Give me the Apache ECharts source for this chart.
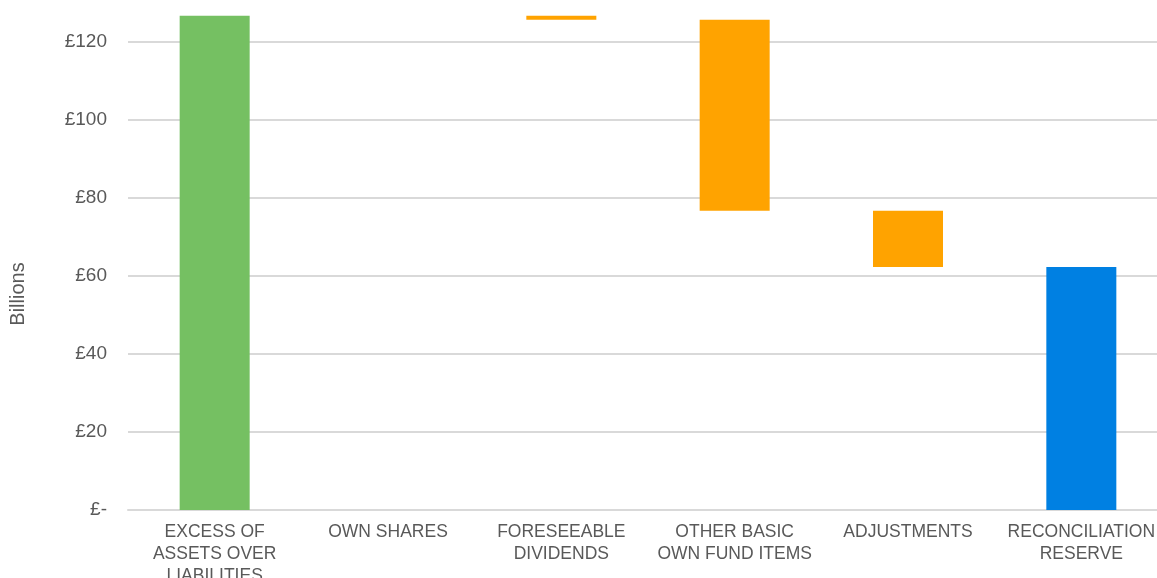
<!DOCTYPE html>
<html>
<head>
<meta charset="utf-8">
<script src="https://cdn.jsdelivr.net/npm/echarts@6/dist/echarts.min.js"></script>
<style>
  html, body { margin: 0; padding: 0; background: #fff; }
  #chart { width: 1157px; height: 578px; }
</style>
</head>
<body>
<div id="chart"></div>
<script>
// categories and movements (billions)
var categories = ['EXCESS OF\nASSETS OVER\nLIABILITIES', 'OWN SHARES', 'FORESEEABLE\nDIVIDENDS',
  'OTHER BASIC\nOWN FUND ITEMS', 'ADJUSTMENTS', 'RECONCILIATION\nRESERVE'];
var changes = [126.7, 0, -1.0, -49.0, -14.4, 62.3];
var kinds = ['total', 'step', 'step', 'step', 'step', 'total'];
var yTicks = [0, 20, 40, 60, 80, 100, 120];

var colTotalStart = '#75C062';
var colStep = '#FFA300';
var colTotalEnd = '#0080E2';

// build waterfall: invisible base + visible block
var baseData = [], blockData = [];
var running = 0;
for (var i = 0; i < changes.length; i++) {
  var v = changes[i];
  if (kinds[i] === 'total') {
    running = v;
    baseData.push(0);
    blockData.push({ value: v, itemStyle: { color: i === 0 ? colTotalStart : colTotalEnd } });
  } else {
    var next = running + v;
    baseData.push(Math.min(running, next));
    blockData.push({ value: Math.abs(v), itemStyle: { color: colStep } });
    running = next;
  }
}

var font = '"Liberation Sans", Arial, sans-serif';
var myChart = echarts.init(document.getElementById('chart'));
var option = {
  backgroundColor: '#ffffff',
  animation: false,
  grid: {
    left: 128, right: -11, top: -36, bottom: 68,
    containLabel: false,
    outerBoundsMode: 'none'
  },
  graphic: [{
    type: 'text',
    x: 18, y: 294,
    rotation: Math.PI / 2,
    style: {
      text: 'Billions',
      fill: '#595959',
      font: '20px ' + font,
      textAlign: 'center',
      textVerticalAlign: 'middle'
    }
  }],
  xAxis: {
    type: 'category',
    data: categories,
    axisTick: { show: false },
    axisLine: { lineStyle: { color: '#D9D9D9', width: 2 } },
    axisLabel: {
      interval: 0,
      margin: 11,
      color: '#595959',
      fontSize: 17.5,
      lineHeight: 22,
      fontFamily: font,
      align: 'center'
    }
  },
  yAxis: {
    type: 'value',
    min: yTicks[0],
    max: 140,
    interval: 20,
    axisLine: { show: false },
    axisTick: { show: false },
    splitLine: { lineStyle: { color: '#D9D9D9', width: 2 } },
    axisLabel: {
      margin: 21,
      color: '#595959',
      fontSize: 19,
      fontFamily: font,
      formatter: function (v) {
        if (yTicks.indexOf(v) < 0) return '';
        return v === 0 ? '£-' : '£' + v;
      }
    }
  },
  series: [{
    type: 'bar',
    stack: 'wf',
    barWidth: 70,
    silent: true,
    itemStyle: { color: 'transparent' },
    data: baseData
  }, {
    type: 'bar',
    stack: 'wf',
    barWidth: 70,
    data: blockData
  }]
};
myChart.setOption(option);
</script>
</body>
</html>
